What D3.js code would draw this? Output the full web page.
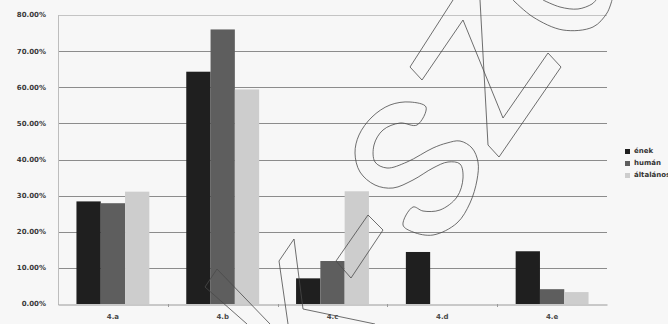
<!DOCTYPE html>
<meta charset="utf-8">
<head>
<script src="https://d3js.org/d3.v7.min.js"></script>
<style>
  body { margin: 0; background: #f7f7f7; }
  text { font-family: "DejaVu Sans", Verdana, sans-serif; }
</style>
</head>
<body>
<svg id="my_dataviz" width="668" height="324"></svg>

<script>
// data
var categories = ["4.a", "4.b", "4.c", "4.d", "4.e"];
var series = ["ének", "humán", "általános"];
var enek = [0.284, 0.643, 0.071, 0.144, 0.146];
var human = [0.279, 0.760, 0.119, 0, 0.041];
var altalanos = [0.311, 0.594, 0.312, 0, 0.033];
var yTicks = [0, 0.1, 0.2, 0.3, 0.4, 0.5, 0.6, 0.7, 0.8];
var colors = ["#1f1f1f", "#5e5e5e", "#cdcdcd"];

var values = [enek, human, altalanos];

var svg = d3.select("svg");

svg.append("rect").attr("width", 668).attr("height", 324).attr("fill", "#f7f7f7");

var x = d3.scaleBand()
  .domain(categories)
  .range([58, 607]);

var x1 = d3.scaleBand()
  .domain(series)
  .range([0, x.bandwidth()])
  .paddingOuter(0.76);

var y = d3.scaleLinear()
  .domain([0, 0.8])
  .range([304, 15]);

var color = d3.scaleOrdinal().domain(series).range(colors);

// gridlines
svg.append("g")
  .selectAll("line")
  .data(yTicks.filter(function(d) { return d > 0; }))
  .enter()
  .append("line")
    .attr("x1", 58).attr("x2", 607)
    .attr("y1", function(d) { return Math.round(y(d)) + 0.5; })
    .attr("y2", function(d) { return Math.round(y(d)) + 0.5; })
    .attr("stroke", function(d) { return d > 0.75 ? "#c4c4c4" : "#8c8c8c"; })
    .attr("stroke-width", 1);

// y axis line
svg.append("line")
  .attr("x1", 58.5).attr("x2", 58.5)
  .attr("y1", y(0.8)).attr("y2", y(0) + 1)
  .attr("stroke", "#bdbdbd");

// y tick labels
svg.append("g")
  .selectAll("text")
  .data(yTicks)
  .enter()
  .append("text")
    .attr("x", 46)
    .attr("y", function(d) { return y(d); })
    .attr("dy", "0.35em")
    .attr("text-anchor", "end")
    .attr("font-size", 7)
    .attr("font-weight", "bold")
    .attr("fill", "#3a3a3a")
    .text(function(d) { return d3.format(".2f")(d * 100) + "%"; });

// bars
var groups = svg.append("g")
  .selectAll("g")
  .data(categories)
  .enter()
  .append("g")
    .attr("transform", function(d) { return "translate(" + x(d) + ",0)"; });

groups.selectAll("rect")
  .data(function(d, i) {
    return series.map(function(s, j) { return { key: s, value: values[j][i] }; });
  })
  .enter()
  .append("rect")
    .attr("x", function(d) { return x1(d.key); })
    .attr("width", x1.bandwidth())
    .attr("y", function(d) { return y(d.value); })
    .attr("height", function(d) { return y(0) - y(d.value); })
    .attr("fill", function(d) { return color(d.key); });

// x axis
var xAxis = svg.append("g")
  .attr("transform", "translate(0," + (y(0) + 0.5) + ")")
  .call(d3.axisBottom(x).tickSize(0).tickPadding(10));
xAxis.select(".domain").attr("stroke", "#9a9a9a");
xAxis.selectAll("text")
  .attr("font-size", 7)
  .attr("font-weight", "bold")
  .attr("fill", "#4a4a4a")
  .attr("font-family", "DejaVu Sans");

// small ticks between categories
svg.append("g")
  .selectAll("line")
  .data(categories.slice(1))
  .enter()
  .append("line")
    .attr("x1", function(d) { return Math.round(x(d)) + 0.5; })
    .attr("x2", function(d) { return Math.round(x(d)) + 0.5; })
    .attr("y1", y(0)).attr("y2", y(0) + 3)
    .attr("stroke", "#9a9a9a");

// legend
var legend = svg.append("g")
  .selectAll("g")
  .data(series)
  .enter()
  .append("g")
    .attr("transform", function(d, i) { return "translate(625," + (151 + i * 12) + ")"; });
legend.append("rect")
  .attr("x", 0).attr("y", -2)
  .attr("width", 5).attr("height", 5)
  .attr("fill", function(d) { return color(d); });
legend.append("text")
  .attr("x", 9).attr("y", 0)
  .attr("dy", "0.35em")
  .attr("font-size", 7)
  .attr("font-weight", "bold")
  .attr("fill", "#333")
  .text(function(d) { return d; });

// watermark outline over the scan
var wm = svg.append("g")
  .attr("fill", "none")
  .attr("stroke", "#4a4a4a")
  .attr("stroke-width", 0.8);
var straight = d3.line();
var smooth = d3.line().curve(d3.curveCatmullRom);
var smoothClosed = d3.line().curve(d3.curveCatmullRomClosed);

wm.append("path").attr("d", straight([[247, 324], [205, 287], [217, 269], [270, 324]]));
wm.append("path").attr("d", straight([[288, 324], [279, 261], [294, 239], [303, 309], [375, 324]]));
wm.append("path").attr("d", straight([[368, 215], [383, 230], [351, 278], [336, 261]]) + "Z");
wm.append("path").attr("d", straight([[453, 0], [410, 67], [422, 80], [463, 20], [503, 118],
  [548, 53], [561, 67], [499, 157], [488, 145], [480, 0]]));
wm.append("path").attr("d", smooth([[513, 0], [533, 17], [563, 30], [593, 27], [607, 13], [612, 0]]));
wm.append("path").attr("d", smooth([[543, 0], [560, 7], [578, 9], [592, 4], [596, 0]]));
wm.append("path").attr("d", smoothClosed([[426, 107], [410, 102], [390, 105], [372, 117], [359, 135],
  [355, 153], [360, 172], [375, 185], [393, 188], [413, 180], [433, 168], [448, 162], [460, 164],
  [463, 178], [457, 197], [440, 210], [423, 211], [413, 207], [403, 225], [413, 232], [433, 235],
  [457, 223], [470, 203], [477, 180], [478, 162], [472, 148], [460, 141], [447, 143], [433, 148],
  [407, 162], [387, 168], [375, 162], [374, 145], [383, 130], [400, 123], [417, 125]]));
</script>
</body>
